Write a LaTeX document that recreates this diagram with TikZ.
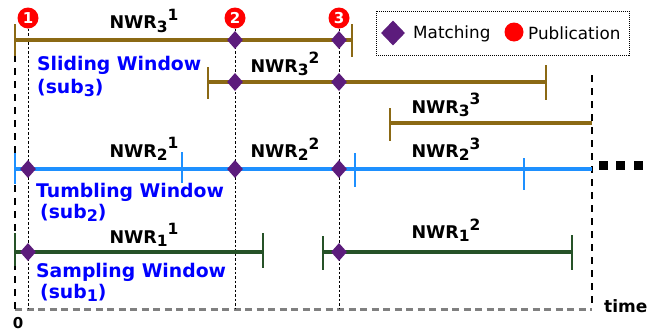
\documentclass[tikz,border=0pt]{standalone}
\usepackage{fontspec}
\setmainfont{DejaVu Sans}
\usetikzlibrary{shapes.geometric}
\definecolor{slidecol}{RGB}{139,105,20}
\definecolor{tumblecol}{RGB}{30,144,255}
\definecolor{samplecol}{RGB}{38,82,40}
\definecolor{matchcol}{RGB}{92,28,124}
\definecolor{pubcol}{RGB}{255,0,0}
\definecolor{axiscol}{RGB}{128,128,128}
% window name with subscript and superscript set one after the other
\newcommand{\nwrlabel}[2]{NWR\raisebox{-0.35ex}{\fontsize{15.5}{15.5}\selectfont #1}\raisebox{0.85ex}{\fontsize{15.5}{15.5}\selectfont #2}}
\newcommand{\subtag}[1]{(sub\raisebox{-0.35ex}{\fontsize{16}{16}\selectfont #1})}
\begin{document}
\begin{tikzpicture}[x=1pt,y=-1pt,
  winbar/.style={line width=4.5pt},
  wintick/.style={line width=2.6pt},
  slide/.style={draw=slidecol},
  tumble/.style={draw=tumblecol},
  sample/.style={draw=samplecol},
  matchpt/.style={diamond,fill=matchcol,inner sep=0pt,minimum width=16pt,minimum height=18pt},
  pubpt/.style={circle,fill=pubcol,inner sep=0pt,minimum size=21pt,text=white,font=\bfseries\fontsize{15}{15}\selectfont},
  nwr/.style={font=\bfseries\fontsize{17.5}{17.5}\selectfont,inner sep=0pt},
  wintitle/.style={font=\bfseries\fontsize{18.8}{18.8}\selectfont,text=blue,inner sep=0pt,anchor=west},
  bound/.style={draw=black,line width=1.4pt,dash pattern=on 7pt off 6pt},
  instant/.style={draw=black,line width=0.8pt,dash pattern=on 2.5pt off 2pt},
  legendtext/.style={font=\fontsize{16.8}{16.8}\selectfont,inner sep=0pt,anchor=west}
]
\useasboundingbox (0,0) rectangle (662,335);

% time axis and the outer boundaries
\draw[draw=axiscol,line width=3pt,dash pattern=on 7pt off 4.5pt] (15,309) -- (592,309);
\draw[bound] (15,55) -- (15,309);
\draw[bound] (592,75) -- (592,309);
\node[font=\bfseries\fontsize{15}{15}\selectfont,inner sep=0pt] (zero) at (18,323) {0};
\node[font=\bfseries\fontsize{17}{17}\selectfont,inner sep=0pt,anchor=west] (timelbl) at (604,306) {time};

% publication instants
\node[pubpt] (p1) at (28,18) {1};
\node[pubpt] (p2) at (235,18) {2};
\node[pubpt] (p3) at (339,18) {3};
\draw[instant] (p1.south) -- (28,309);
\draw[instant] (p2.south) -- (235,309);
\draw[instant] (p3.south) -- (339,309);

% sliding window (sub3)
\draw[slide,winbar] (15,40) -- (352,40);
\draw[slide,wintick] (15,24) -- (15,56);
\draw[slide,wintick] (352,24) -- (352,57);
\draw[slide,winbar] (208,82) -- (546,82);
\draw[slide,wintick] (208,67) -- (208,99);
\draw[slide,wintick] (546,65) -- (546,100);
\draw[slide,winbar] (390,123) -- (592,123);
\draw[slide,wintick] (390,108) -- (390,141);
\node[nwr] (s1) at (144,21) {\nwrlabel{3}{1}};
\node[nwr] (s2) at (285,64) {\nwrlabel{3}{2}};
\node[nwr] (s3) at (446,105) {\nwrlabel{3}{3}};
\node[wintitle] (slt) at (37,65) {Sliding Window};
\node[wintitle] (sls) at (37,88) {\subtag{3}};

% tumbling window (sub2)
\draw[tumble,winbar] (15,169) -- (592,169);
\draw[tumble,wintick] (15,153) -- (15,184);
\draw[tumble,wintick] (182,152) -- (182,183);
\draw[tumble,wintick] (355,153) -- (355,187);
\draw[tumble,wintick] (524,158) -- (524,190);
\node[nwr] (t1) at (144,149) {\nwrlabel{2}{1}};
\node[nwr] (t2) at (285,149) {\nwrlabel{2}{2}};
\node[nwr] (t3) at (446,149) {\nwrlabel{2}{3}};
\node[wintitle] (tlt) at (36,192) {Tumbling Window};
\node[wintitle] (tls) at (40,213) {\subtag{2}};
% continuation marks
\foreach \cx [count=\i] in {603,620,638}
  \node[fill=black,inner sep=0pt,minimum size=9pt] (more\i) at (\cx,165) {};

% sampling window (sub1)
\draw[sample,winbar] (15,252) -- (263,252);
\draw[sample,wintick] (15,233) -- (15,266);
\draw[sample,wintick] (263,233) -- (263,268);
\draw[sample,winbar] (323,252) -- (572,252);
\draw[sample,wintick] (323,236) -- (323,270);
\draw[sample,wintick] (572,235) -- (572,270);
\node[nwr] (m1) at (144,235) {\nwrlabel{1}{1}};
\node[nwr] (m2) at (446,230) {\nwrlabel{1}{2}};
\node[wintitle] (mlt) at (36,272) {Sampling Window};
\node[wintitle] (mls) at (40,293) {\subtag{1}};

% matching events
\foreach \mx/\my [count=\i] in {28/169,28/252,235/40,235/82,235/169,339/40,339/82,339/169,339/252}
  \node[matchpt] (mt\i) at (\mx,\my) {};

% legend
\draw[draw=black,line width=0.8pt,dash pattern=on 1pt off 1pt] (376,11) rectangle (629,55);
\node[diamond,fill=matchcol,inner sep=0pt,minimum width=24pt,minimum height=25pt] (legm) at (393,33) {};
\node[legendtext] (legmt) at (413,34) {Matching};
\node[circle,fill=pubcol,inner sep=0pt,minimum size=19pt] (legp) at (514,32) {};
\node[legendtext] (legpt) at (528,33) {Publication};
\end{tikzpicture}
\end{document}
